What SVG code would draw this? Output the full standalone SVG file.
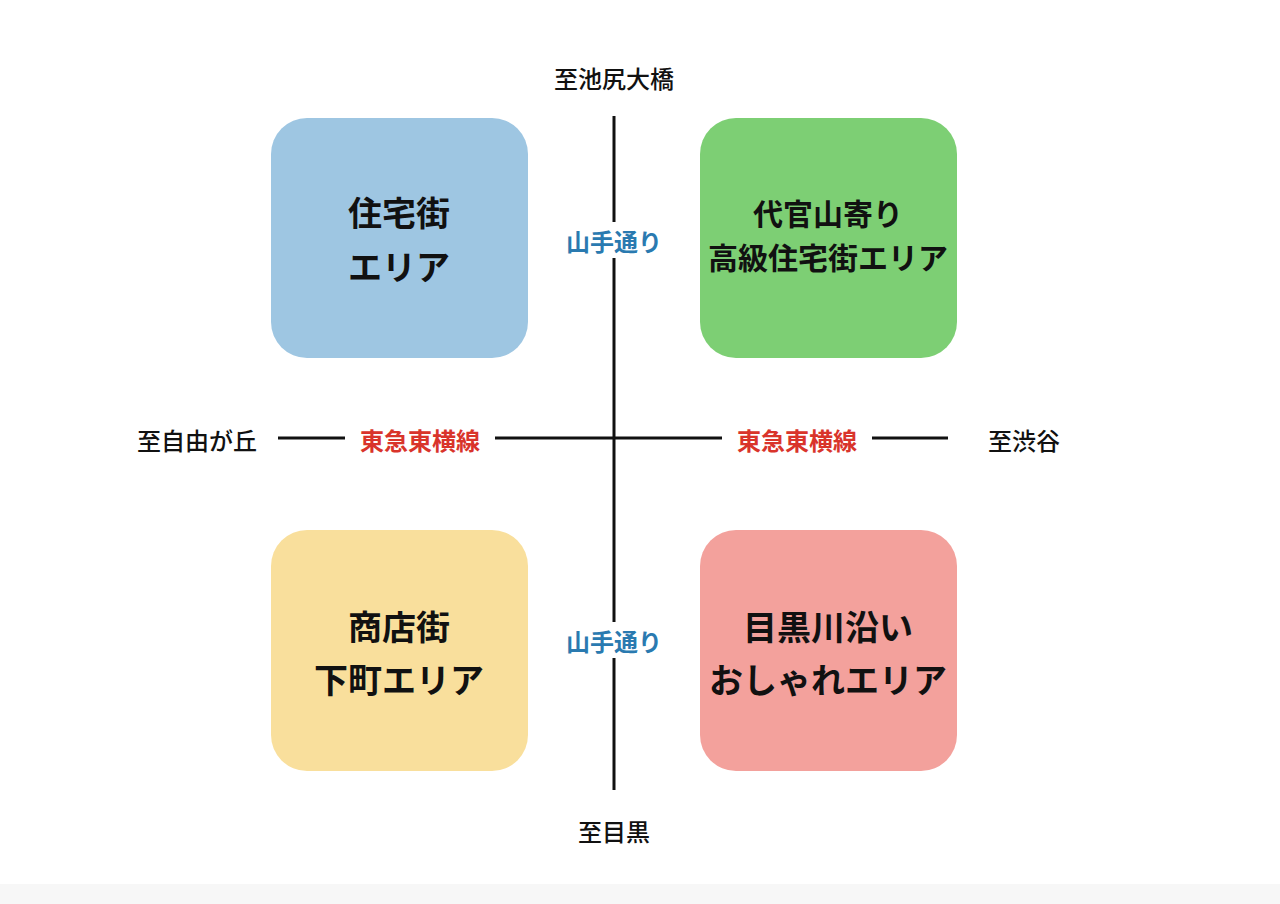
<svg xmlns="http://www.w3.org/2000/svg" width="1280" height="904" viewBox="0 0 1280 904">
<style>
text{font-family:"Noto Sans CJK JP","Noto Sans",sans-serif;text-anchor:middle;dominant-baseline:central}
.box text{font-size:34px;font-weight:bold;fill:#111}
.box text.s{font-size:30px}
.dir{font-size:24px;font-weight:500;fill:#111}
.yama{font-size:24px;font-weight:bold;fill:#2a7ab0}
.tokyu{font-size:24px;font-weight:bold;fill:#d9342b}
.ln{stroke:#111;stroke-width:3;fill:none}
</style>
<rect width="1280" height="904" fill="#fff"/>
<rect y="884" width="1280" height="20" fill="#f7f7f7"/>
<g id="connectors">
<line class="ln" x1="614" y1="116" x2="614" y2="790"/>
<line class="ln" x1="278" y1="438" x2="948" y2="438"/>
<rect x="345" y="422" width="150" height="34" fill="#fff"/>
<rect x="722" y="422" width="150" height="34" fill="#fff"/>
<rect x="555" y="222" width="118" height="36" fill="#fff"/>
<rect x="555" y="622" width="118" height="36" fill="#fff"/>
<text class="tokyu" x="420" y="439">東急東横線</text>
<text class="tokyu" x="797" y="439">東急東横線</text>
<text class="yama" x="614" y="240">山手通り</text>
<text class="yama" x="614" y="640">山手通り</text>
</g>
<g id="n_top"><text class="dir" x="614" y="77">至池尻大橋</text></g>
<g id="n_bottom"><text class="dir" x="614" y="830">至目黒</text></g>
<g id="n_left"><text class="dir" x="197" y="439">至自由が丘</text></g>
<g id="n_right"><text class="dir" x="1024" y="439">至渋谷</text></g>
<g id="box1" class="box"><rect x="271" y="118" width="257" height="240" rx="36" fill="#9ec6e2"/><text x="399" y="211">住宅街</text><text x="399" y="265">エリア</text></g>
<g id="box2" class="box"><rect x="700" y="118" width="257" height="240" rx="36" fill="#7dcf74"/><text class="s" x="828" y="212">代官山寄り</text><text class="s" x="828" y="256">高級住宅街エリア</text></g>
<g id="box3" class="box"><rect x="271" y="530" width="257" height="241" rx="36" fill="#f9df9c"/><text x="399" y="625">商店街</text><text x="399" y="678">下町エリア</text></g>
<g id="box4" class="box"><rect x="700" y="530" width="257" height="241" rx="36" fill="#f3a19c"/><text x="828" y="625">目黒川沿い</text><text x="828" y="678">おしゃれエリア</text></g>
</svg>
